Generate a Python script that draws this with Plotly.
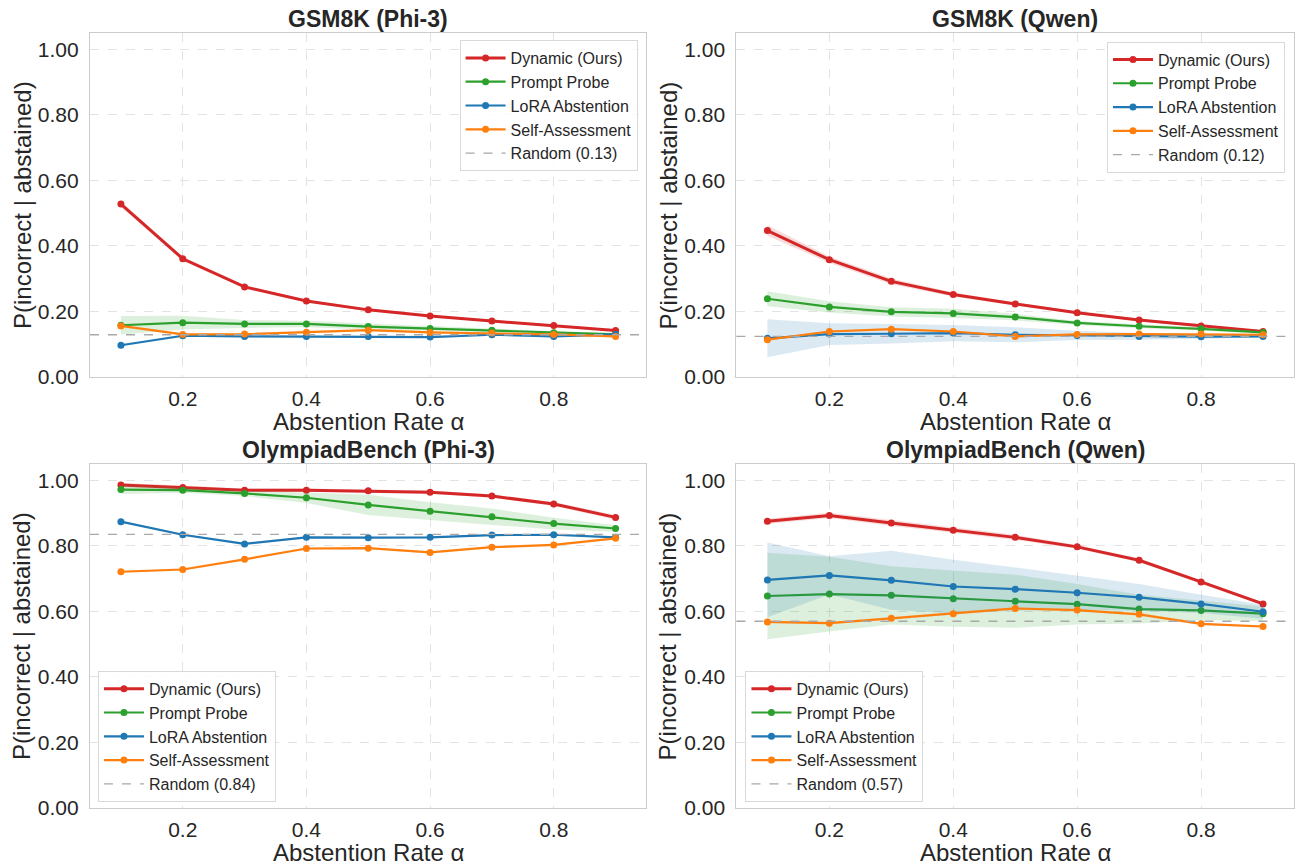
import plotly.graph_objects as go

# ---------------- data ----------------
alpha = [0.1, 0.2, 0.3, 0.4, 0.5, 0.6, 0.7, 0.8, 0.9]
x_ticks = [0.2, 0.4, 0.6, 0.8]
x_tick_text = ["0.2", "0.4", "0.6", "0.8"]
y_ticks = [0.0, 0.2, 0.4, 0.6, 0.8, 1.0]

methods = ["Dynamic (Ours)", "Prompt Probe", "LoRA Abstention", "Self-Assessment"]
colors = ["#d62728", "#2ca02c", "#1f77b4", "#ff7f0e"]

titles = ["GSM8K (Phi-3)", "GSM8K (Qwen)", "OlympiadBench (Phi-3)", "OlympiadBench (Qwen)"]
random_level = [0.129, 0.124, 0.835, 0.570]
random_label = ["0.13", "0.12", "0.84", "0.57"]

# GSM8K (Phi-3)
gsm_phi_dynamic = [0.528, 0.361, 0.275, 0.232, 0.205, 0.186, 0.171, 0.157, 0.142]
gsm_phi_prompt = [0.158, 0.166, 0.162, 0.162, 0.154, 0.148, 0.143, 0.135, 0.130]
gsm_phi_lora = [0.097, 0.126, 0.124, 0.124, 0.124, 0.122, 0.129, 0.124, 0.130]
gsm_phi_self = [0.156, 0.130, 0.131, 0.137, 0.143, 0.136, 0.134, 0.130, 0.124]
gsm_phi_dynamic_sd = [0.008, 0.006, 0.005, 0.004, 0.004, 0.003, 0.003, 0.003, 0.003]
gsm_phi_prompt_sd = [0.028, 0.021, 0.012, 0.010, 0.009, 0.007, 0.006, 0.005, 0.004]
gsm_phi_lora_sd = [0.003, 0.003, 0.003, 0.003, 0.003, 0.003, 0.003, 0.003, 0.003]
gsm_phi_self_sd = [0.003, 0.003, 0.003, 0.003, 0.003, 0.003, 0.003, 0.003, 0.003]

# GSM8K (Qwen)
gsm_qwen_dynamic = [0.447, 0.358, 0.292, 0.252, 0.223, 0.196, 0.174, 0.156, 0.139]
gsm_qwen_prompt = [0.239, 0.214, 0.199, 0.194, 0.183, 0.165, 0.155, 0.147, 0.136]
gsm_qwen_lora = [0.118, 0.131, 0.132, 0.134, 0.129, 0.127, 0.124, 0.123, 0.124]
gsm_qwen_self = [0.114, 0.139, 0.146, 0.139, 0.124, 0.130, 0.131, 0.131, 0.129]
gsm_qwen_dynamic_sd = [0.016, 0.010, 0.009, 0.006, 0.005, 0.004, 0.004, 0.003, 0.003]
gsm_qwen_prompt_sd = [0.023, 0.017, 0.014, 0.014, 0.010, 0.006, 0.006, 0.005, 0.004]
gsm_qwen_lora_sd = [0.058, 0.033, 0.030, 0.025, 0.023, 0.014, 0.010, 0.007, 0.004]
gsm_qwen_self_sd = [0.003, 0.003, 0.003, 0.003, 0.003, 0.003, 0.003, 0.003, 0.003]

# OlympiadBench (Phi-3)
oly_phi_dynamic = [0.986, 0.978, 0.970, 0.970, 0.968, 0.964, 0.952, 0.928, 0.887]
oly_phi_prompt = [0.972, 0.970, 0.960, 0.947, 0.925, 0.906, 0.889, 0.868, 0.853]
oly_phi_lora = [0.874, 0.834, 0.806, 0.826, 0.825, 0.826, 0.833, 0.834, 0.826]
oly_phi_self = [0.721, 0.728, 0.759, 0.792, 0.793, 0.780, 0.796, 0.803, 0.823]
oly_phi_dynamic_sd = [0.007, 0.006, 0.005, 0.005, 0.005, 0.005, 0.005, 0.006, 0.007]
oly_phi_prompt_sd = [0.014, 0.008, 0.008, 0.016, 0.031, 0.027, 0.025, 0.018, 0.010]
oly_phi_lora_sd = [0.003, 0.003, 0.003, 0.003, 0.003, 0.003, 0.003, 0.003, 0.003]
oly_phi_self_sd = [0.003, 0.003, 0.003, 0.003, 0.003, 0.003, 0.003, 0.003, 0.003]

# OlympiadBench (Qwen)
oly_qwen_dynamic = [0.875, 0.893, 0.870, 0.848, 0.826, 0.797, 0.756, 0.690, 0.623]
oly_qwen_prompt = [0.647, 0.653, 0.649, 0.639, 0.631, 0.622, 0.607, 0.603, 0.593]
oly_qwen_lora = [0.696, 0.710, 0.695, 0.676, 0.668, 0.657, 0.643, 0.623, 0.599]
oly_qwen_self = [0.568, 0.564, 0.579, 0.593, 0.609, 0.604, 0.591, 0.562, 0.554]
oly_qwen_dynamic_sd = [0.008, 0.008, 0.009, 0.008, 0.008, 0.006, 0.005, 0.005, 0.005]
oly_qwen_prompt_sd = [0.132, 0.114, 0.089, 0.086, 0.081, 0.062, 0.044, 0.030, 0.022]
oly_qwen_lora_sd = [0.114, 0.058, 0.090, 0.082, 0.066, 0.053, 0.041, 0.028, 0.021]
oly_qwen_self_sd = [0.004, 0.004, 0.004, 0.004, 0.004, 0.004, 0.004, 0.004, 0.004]

panel_means = [
    [gsm_phi_dynamic, gsm_phi_prompt, gsm_phi_lora, gsm_phi_self],
    [gsm_qwen_dynamic, gsm_qwen_prompt, gsm_qwen_lora, gsm_qwen_self],
    [oly_phi_dynamic, oly_phi_prompt, oly_phi_lora, oly_phi_self],
    [oly_qwen_dynamic, oly_qwen_prompt, oly_qwen_lora, oly_qwen_self],
]
panel_sds = [
    [gsm_phi_dynamic_sd, gsm_phi_prompt_sd, gsm_phi_lora_sd, gsm_phi_self_sd],
    [gsm_qwen_dynamic_sd, gsm_qwen_prompt_sd, gsm_qwen_lora_sd, gsm_qwen_self_sd],
    [oly_phi_dynamic_sd, oly_phi_prompt_sd, oly_phi_lora_sd, oly_phi_self_sd],
    [oly_qwen_dynamic_sd, oly_qwen_prompt_sd, oly_qwen_lora_sd, oly_qwen_self_sd],
]

# ---------------- layout ----------------
W, H = 1295, 867
ML, MR, MT, MB = 90, 1, 33, 59
FONT = "Liberation Sans, Arial, sans-serif"
TXT = "#262626"

x_domains = [[0.0, 0.4622], [0.5369, 1.0], [0.0, 0.4622], [0.5369, 1.0]]
y_domains = [[0.5561, 1.0], [0.5561, 1.0], [0.0, 0.4439], [0.0, 0.4439]]
legend_pos = [
    dict(x=0.4548, y=0.991, xanchor="right", yanchor="top"),
    dict(x=0.9925, y=0.989, xanchor="right", yanchor="top"),
    dict(x=0.0066, y=0.008, xanchor="left", yanchor="bottom"),
    dict(x=0.5444, y=0.008, xanchor="left", yanchor="bottom"),
]


def rgba(hexc, a):
    h = hexc.lstrip("#")
    return "rgba(%d,%d,%d,%s)" % (int(h[0:2], 16), int(h[2:4], 16), int(h[4:6], 16), a)


fig = go.Figure()
layout = dict(
    width=W, height=H,
    margin=dict(l=ML, r=MR, t=MT, b=MB),
    paper_bgcolor="white", plot_bgcolor="white",
    font=dict(family=FONT, color=TXT),
    showlegend=True,
    annotations=[], shapes=[],
)

for p in range(4):
    sfx = "" if p == 0 else str(p + 1)
    xa, ya = "x" + sfx, "y" + sfx
    leg = "legend" + sfx
    for m in range(4):
        mean = panel_means[p][m]
        sd = panel_sds[p][m]
        upper = [a + b for a, b in zip(mean, sd)]
        lower = [a - b for a, b in zip(mean, sd)]
        fig.add_trace(go.Scatter(
            x=alpha + alpha[::-1], y=upper + lower[::-1],
            fill="toself", fillcolor=rgba(colors[m], 0.16),
            line=dict(width=0), mode="lines", hoverinfo="skip",
            showlegend=False, xaxis=xa, yaxis=ya,
        ))
        fig.add_trace(go.Scatter(
            x=alpha, y=mean, mode="lines+markers", name=methods[m],
            line=dict(color=colors[m], width=3 if m == 0 else 2.2),
            marker=dict(color=colors[m], size=7),
            xaxis=xa, yaxis=ya, legend=leg,
        ))
    # random baseline
    fig.add_trace(go.Scatter(
        x=[None], y=[None], mode="lines",
        name="Random (%s)" % random_label[p],
        line=dict(color="#a8a8a8", width=1.3, dash="dash"),
        xaxis=xa, yaxis=ya, legend=leg,
    ))
    layout["shapes"].append(dict(
        type="line", xref=xa + " domain", yref=ya,
        x0=0, x1=1, y0=random_level[p], y1=random_level[p],
        line=dict(color="#a8a8a8", width=1.3, dash="dash"), layer="above",
    ))

    layout["xaxis" + sfx] = dict(
        domain=x_domains[p], anchor=ya, range=[0.05, 0.95],
        tickvals=x_ticks, ticktext=x_tick_text,
        ticks="outside", ticklen=3, tickcolor="rgba(0,0,0,0)",
        tickfont=dict(size=21, color=TXT, family=FONT),
        showgrid=True, gridcolor="#e3e3e3", griddash="dash", gridwidth=1,
        showline=True, mirror=True, linecolor="#cccccc", linewidth=1.3,
        zeroline=False,
    )
    layout["yaxis" + sfx] = dict(
        domain=y_domains[p], anchor=xa, range=[0, 1.05],
        tickvals=y_ticks, tickformat=".2f",
        ticks="outside", ticklen=6, tickcolor="rgba(0,0,0,0)",
        tickfont=dict(size=21, color=TXT, family=FONT),
        showgrid=True, gridcolor="#e3e3e3", griddash="dash", gridwidth=1,
        showline=True, mirror=True, linecolor="#cccccc", linewidth=1.3,
        zeroline=False,
    )
    layout[leg] = dict(
        **legend_pos[p], xref="paper", yref="paper",
        bgcolor="rgba(255,255,255,0.85)", bordercolor="#d9d9d9", borderwidth=1,
        font=dict(size=16, color=TXT, family=FONT), itemwidth=40,
        tracegroupgap=0,
    )
    # title
    layout["annotations"].append(dict(
        text="<b>%s</b>" % titles[p], xref=xa + " domain", yref=ya + " domain",
        x=0.5, y=1, yshift=14, xanchor="center", yanchor="middle",
        showarrow=False, font=dict(size=23, color=TXT, family=FONT),
    ))
    # x label
    layout["annotations"].append(dict(
        text="Abstention Rate α", xref=xa + " domain", yref=ya + " domain",
        x=0.5, y=0, yshift=-44, xanchor="center", yanchor="middle",
        showarrow=False, font=dict(size=24, color=TXT, family=FONT),
    ))
    # y label
    layout["annotations"].append(dict(
        text="P(incorrect | abstained)", xref=xa + " domain", yref=ya + " domain",
        x=0, y=0.5, xshift=-68, xanchor="center", yanchor="middle",
        textangle=-90, showarrow=False, font=dict(size=24, color=TXT, family=FONT),
    ))

fig.update_layout(**layout)
fig.write_html(
    "out.html",
    config={"displayModeBar": False},
    post_script="document.body.style.margin='0';document.body.style.overflow='hidden';",
)
